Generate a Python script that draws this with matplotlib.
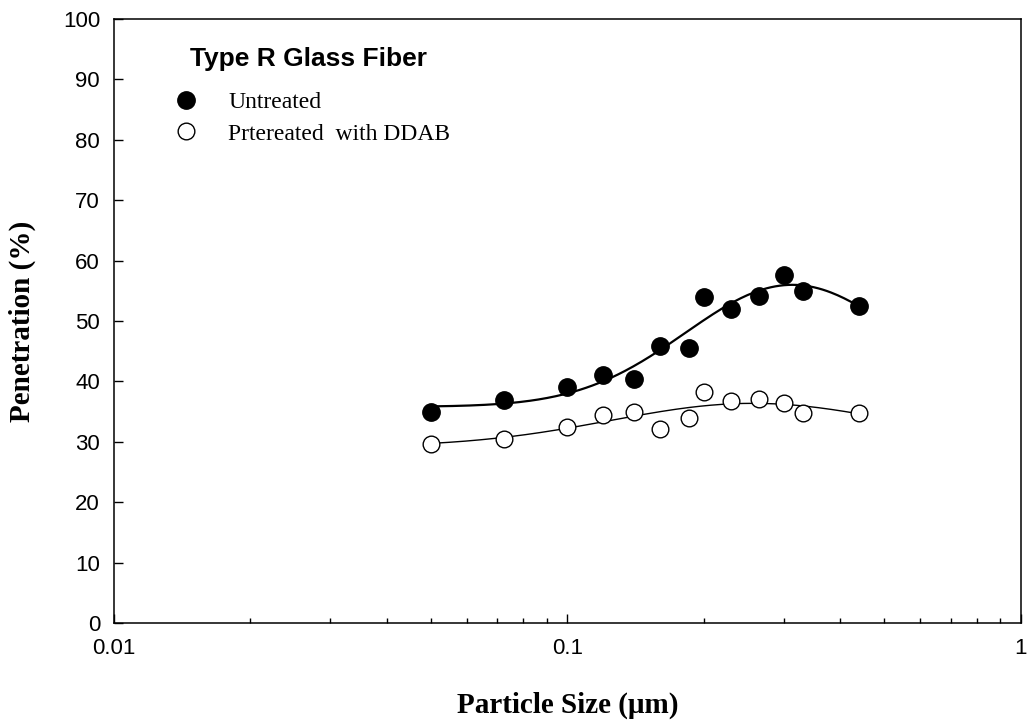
import numpy as np
import matplotlib
matplotlib.use("Agg")
import matplotlib.pyplot as plt
from matplotlib.ticker import FixedLocator, FixedFormatter, NullFormatter, LogLocator
from matplotlib.lines import Line2D

# particle size (um)
size = [0.050, 0.0726, 0.100, 0.120, 0.140, 0.160, 0.185, 0.200, 0.230, 0.265, 0.300, 0.330, 0.440]
# penetration (%)
untreated = [34.9, 36.9, 39.0, 41.0, 40.4, 45.8, 45.5, 54.0, 52.0, 54.2, 57.6, 55.0, 52.4]
pretreated = [29.7, 30.5, 32.4, 34.5, 35.0, 32.2, 33.9, 38.3, 36.7, 37.1, 36.5, 34.7, 34.8]

xticks = [0.01, 0.1, 1]
xticklabels = ["0.01", "0.1", "1"]
yticks = list(range(0, 101, 10))

sans = ["Liberation Sans", "Arial", "DejaVu Sans"]
serif = ["Liberation Serif", "Times New Roman", "DejaVu Serif"]


def lognormal_fit(x, y):
    """4-parameter log-normal peak y0 + a*exp(-0.5*(ln(x/x0)/b)^2), least squares.
    y0 and a are solved linearly for each (x0, b) on a grid."""
    x = np.asarray(x, float)
    y = np.asarray(y, float)
    best = None
    for x0 in np.geomspace(0.15, 0.8, 160):
        for b in np.linspace(0.2, 1.5, 160):
            g = np.exp(-0.5 * (np.log(x / x0) / b) ** 2)
            A = np.column_stack([np.ones_like(g), g])
            coef, *_ = np.linalg.lstsq(A, y, rcond=None)
            err = np.sum((A @ coef - y) ** 2)
            if best is None or err < best[0]:
                best = (err, coef[0], coef[1], x0, b)
    _, y0, a, x0, b = best
    return lambda t: y0 + a * np.exp(-0.5 * (np.log(t / x0) / b) ** 2)


fig = plt.figure(figsize=(10.27, 7.27), dpi=100)
ax = fig.add_axes([0.111, 0.143, 0.883, 0.831])

xs = np.geomspace(min(size), max(size), 200)
ax.plot(xs, lognormal_fit(size, untreated)(xs), color="black", lw=1.6, zorder=2)
ax.plot(xs, lognormal_fit(size, pretreated)(xs), color="black", lw=1.0, zorder=2)

ax.plot(size, untreated, "o", ms=12.5, mfc="black", mec="black", mew=1, zorder=3)
ax.plot(size, pretreated, "o", ms=12, mfc="white", mec="black", mew=1, zorder=3)

ax.set_xscale("log")
ax.set_xlim(0.01, 1)
ax.set_ylim(0, 100)
ax.xaxis.set_major_locator(FixedLocator(xticks))
ax.xaxis.set_major_formatter(FixedFormatter(xticklabels))
ax.xaxis.set_minor_locator(LogLocator(base=10, subs=np.arange(2, 10)))
ax.xaxis.set_minor_formatter(NullFormatter())
ax.set_yticks(yticks)

for s in ax.spines.values():
    s.set_linewidth(1.1)
ax.tick_params(axis="both", which="major", direction="in", length=6.5, width=1,
               labelsize=16, top=False, right=False)
ax.tick_params(axis="x", which="minor", direction="in", length=3.5, width=1, top=False)
ax.tick_params(axis="x", which="major", pad=11)
ax.tick_params(axis="y", which="major", pad=10)
for lab in ax.get_xticklabels() + ax.get_yticklabels():
    lab.set_fontfamily(sans)

ax.set_xlabel("Particle Size (\u03bcm)", fontsize=21, fontweight="bold",
              family=serif, va="center")
ax.xaxis.set_label_coords(0.5, -0.136)
ax.set_ylabel("Penetration (%)", fontsize=21, fontweight="bold",
              family=serif, va="center")
ax.yaxis.set_label_coords(-0.101, 0.5)

# legend heading and entries
ax.text(0.084, 0.934, "Type R Glass Fiber", transform=ax.transAxes,
        family=sans, fontsize=19, fontweight="bold", ha="left", va="center")
handles = [
    Line2D([], [], ls="none", marker="o", ms=12.5, mfc="black", mec="black"),
    Line2D([], [], ls="none", marker="o", ms=12, mfc="white", mec="black"),
]
ax.legend(handles, ["Untreated", "Prtereated  with DDAB"],
          loc="upper left", bbox_to_anchor=(0.0665, 0.880), frameon=False,
          prop={"family": serif, "size": 17}, borderaxespad=0, borderpad=0,
          handlelength=1.0, handletextpad=1.28, labelspacing=0.43)

fig.savefig("out.png", dpi=100)
